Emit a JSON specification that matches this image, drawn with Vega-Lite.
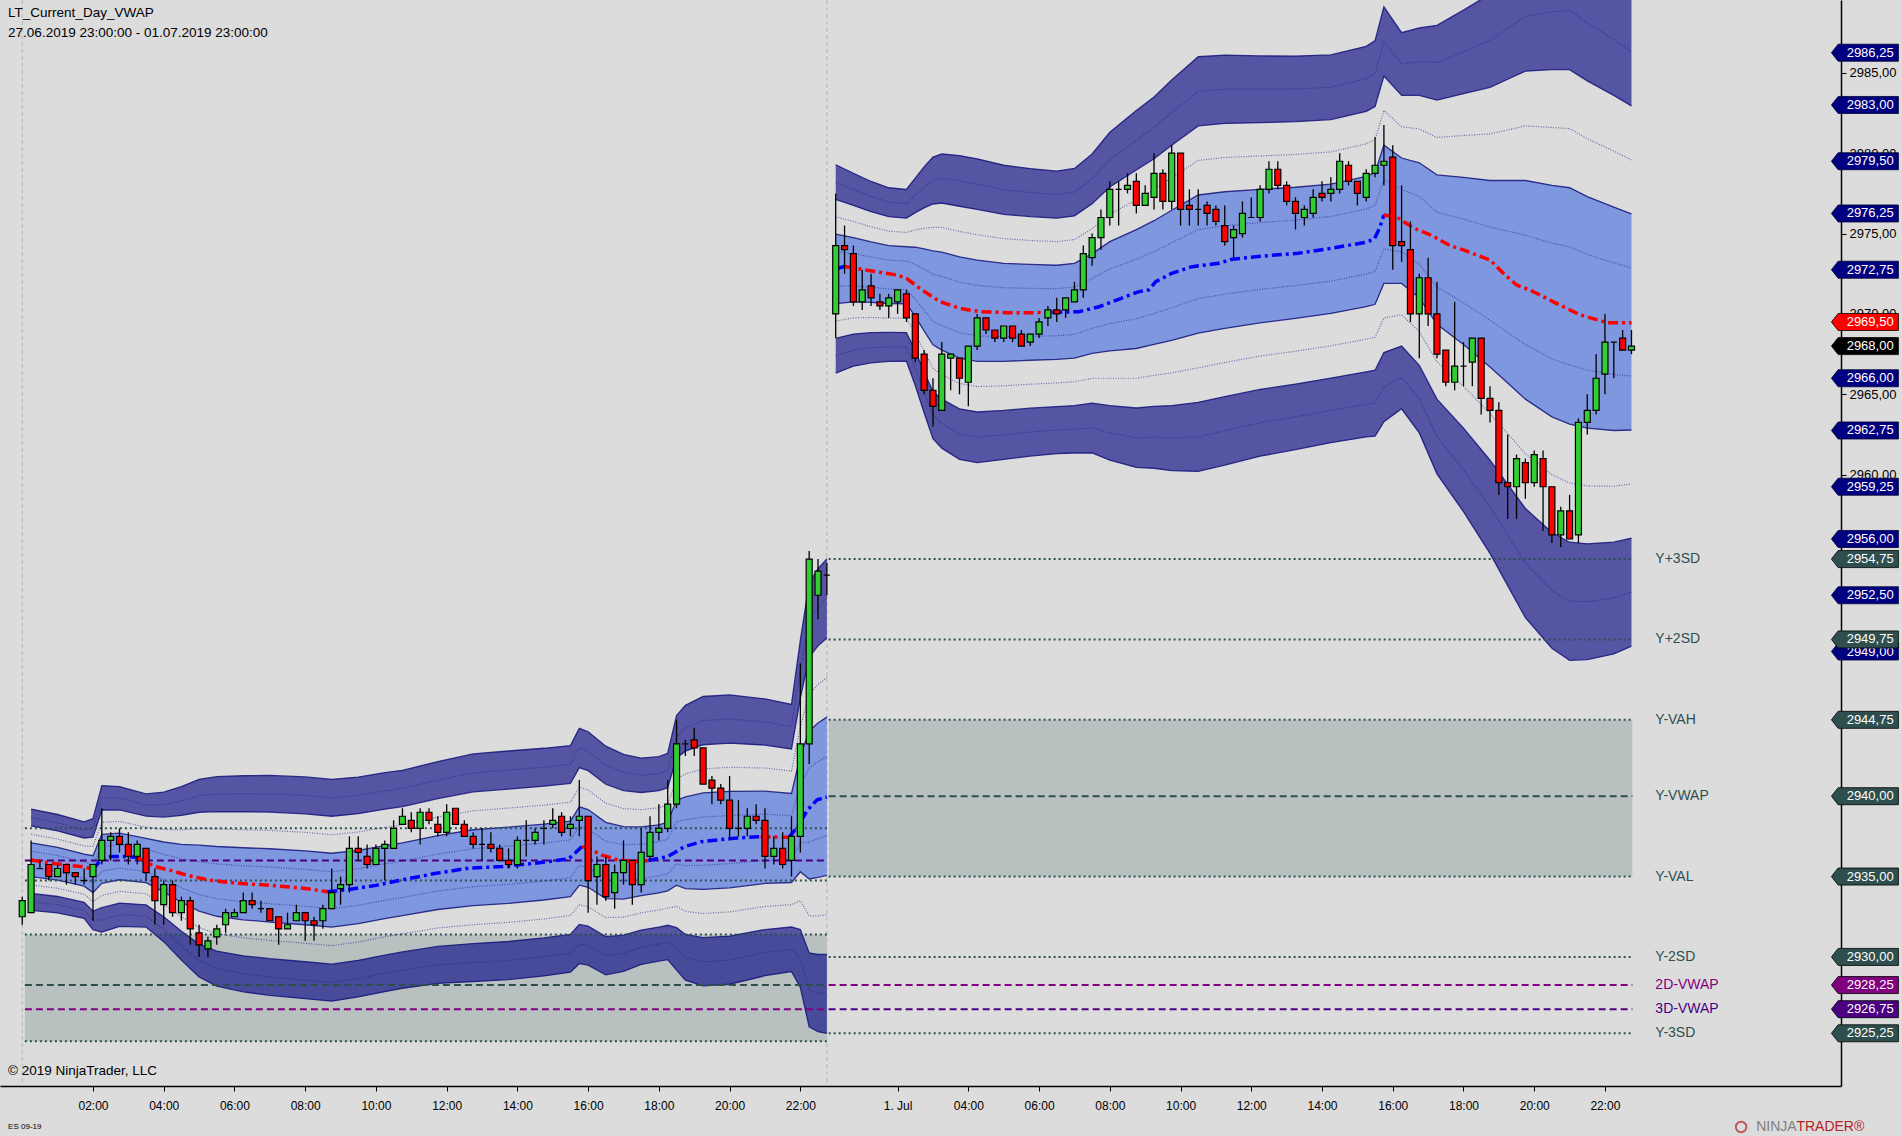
{
"$schema":"https://vega.github.io/schema/vega-lite/v6.json",
"width":1841,"height":1086,
"autosize":{"type":"none"},
"padding":{"left":0,"top":0,"right":61,"bottom":50},
"background":"#DCDCDC",
"config":{"view":{"stroke":null,"fill":"#DCDCDC"},"font":"Liberation Sans",
 "axis":{"grid":false,"domainColor":"#000000","tickColor":"#000000","labelColor":"#000000","labelFont":"Liberation Sans"}},
"resolve":{"scale":{"color":"independent","strokeDash":"independent"}},
"datasets":{
"candles":[
{"n":0,"o":2932.5,"h":2933.75,"l":2932,"c":2933.5},
{"n":1,"o":2932.75,"h":2937.25,"l":2932.75,"c":2935.75},
{"n":2,"o":2935.5,"h":2936,"l":2935.5,"c":2935.5},
{"n":3,"o":2935.75,"h":2935.75,"l":2934.75,"c":2935},
{"n":4,"o":2935,"h":2935.75,"l":2935,"c":2935.5},
{"n":5,"o":2935.75,"h":2935.75,"l":2934.5,"c":2935.25},
{"n":6,"o":2935.25,"h":2935.25,"l":2934.5,"c":2935},
{"n":7,"o":2934.75,"h":2935.5,"l":2934.5,"c":2934.75},
{"n":8,"o":2935,"h":2935.75,"l":2932.25,"c":2935.75},
{"n":9,"o":2936,"h":2939.25,"l":2935.75,"c":2937.25},
{"n":10,"o":2937.25,"h":2937.75,"l":2936,"c":2937.5},
{"n":11,"o":2937.5,"h":2938,"l":2936.5,"c":2937},
{"n":12,"o":2937,"h":2937.75,"l":2935.75,"c":2936.25},
{"n":13,"o":2936.25,"h":2937.25,"l":2935.75,"c":2937},
{"n":14,"o":2936.75,"h":2936.75,"l":2934.75,"c":2935.25},
{"n":15,"o":2935,"h":2935.5,"l":2932,"c":2933.5},
{"n":16,"o":2933.25,"h":2934.75,"l":2932,"c":2934.5},
{"n":17,"o":2934.5,"h":2934.75,"l":2932.5,"c":2932.75},
{"n":18,"o":2932.75,"h":2933.75,"l":2932.25,"c":2933.5},
{"n":19,"o":2933.5,"h":2933.75,"l":2930.75,"c":2931.75},
{"n":20,"o":2931.5,"h":2932,"l":2930,"c":2930.75},
{"n":21,"o":2930.5,"h":2931.25,"l":2930,"c":2931},
{"n":22,"o":2931.25,"h":2932,"l":2930.75,"c":2931.75},
{"n":23,"o":2932,"h":2933,"l":2931.5,"c":2932.75},
{"n":24,"o":2932.5,"h":2933,"l":2932.5,"c":2932.75},
{"n":25,"o":2932.75,"h":2934,"l":2932.75,"c":2933.5},
{"n":26,"o":2933.5,"h":2934,"l":2933,"c":2933.25},
{"n":27,"o":2933,"h":2933.5,"l":2932.75,"c":2933},
{"n":28,"o":2933,"h":2933,"l":2932.25,"c":2932.25},
{"n":29,"o":2932.5,"h":2932.5,"l":2930.75,"c":2931.75},
{"n":30,"o":2931.75,"h":2932.75,"l":2931.75,"c":2932},
{"n":31,"o":2932.25,"h":2933.25,"l":2932.25,"c":2932.75},
{"n":32,"o":2932.75,"h":2932.75,"l":2931,"c":2932.25},
{"n":33,"o":2932.25,"h":2932.5,"l":2931,"c":2932},
{"n":34,"o":2932.25,"h":2933.25,"l":2931.75,"c":2933},
{"n":35,"o":2933,"h":2935.5,"l":2933,"c":2934},
{"n":36,"o":2934.25,"h":2935,"l":2933.25,"c":2934.5},
{"n":37,"o":2934.5,"h":2937.5,"l":2934,"c":2936.75},
{"n":38,"o":2936.75,"h":2937.5,"l":2936,"c":2936.5},
{"n":39,"o":2936.25,"h":2937,"l":2935.5,"c":2935.75},
{"n":40,"o":2935.75,"h":2937,"l":2935.75,"c":2936.75},
{"n":41,"o":2936.75,"h":2937.25,"l":2934.75,"c":2937},
{"n":42,"o":2936.75,"h":2938.5,"l":2936.75,"c":2938},
{"n":43,"o":2938.25,"h":2939.25,"l":2938.25,"c":2938.75},
{"n":44,"o":2938.5,"h":2939,"l":2937.75,"c":2938},
{"n":45,"o":2938,"h":2939.25,"l":2937,"c":2939},
{"n":46,"o":2939,"h":2939.25,"l":2938.25,"c":2938.5},
{"n":47,"o":2938.25,"h":2938.75,"l":2937.5,"c":2937.75},
{"n":48,"o":2937.75,"h":2939.5,"l":2937.5,"c":2939},
{"n":49,"o":2939.25,"h":2939.25,"l":2938.25,"c":2938.25},
{"n":50,"o":2938.25,"h":2938.5,"l":2937.5,"c":2937.5},
{"n":51,"o":2937.5,"h":2937.75,"l":2936.75,"c":2937},
{"n":52,"o":2937,"h":2938,"l":2936,"c":2937},
{"n":53,"o":2937,"h":2937.75,"l":2936.5,"c":2936.75},
{"n":54,"o":2936.75,"h":2937,"l":2936,"c":2936},
{"n":55,"o":2936,"h":2936.75,"l":2935.5,"c":2935.75},
{"n":56,"o":2935.75,"h":2937.5,"l":2935.5,"c":2937.25},
{"n":57,"o":2937.25,"h":2938.5,"l":2936.25,"c":2937.25},
{"n":58,"o":2937.25,"h":2938,"l":2937,"c":2937.75},
{"n":59,"o":2938,"h":2938.5,"l":2937,"c":2938},
{"n":60,"o":2938.25,"h":2939.25,"l":2938,"c":2938.5},
{"n":61,"o":2938.75,"h":2939,"l":2937.5,"c":2937.75},
{"n":62,"o":2938,"h":2938.75,"l":2937.5,"c":2938.25},
{"n":63,"o":2938.5,"h":2941,"l":2937.5,"c":2938.75},
{"n":64,"o":2938.75,"h":2938.75,"l":2932.75,"c":2934.75},
{"n":65,"o":2935,"h":2936.25,"l":2933.25,"c":2935.75},
{"n":66,"o":2935.75,"h":2936.25,"l":2933.5,"c":2933.75},
{"n":67,"o":2934,"h":2935.75,"l":2933,"c":2935.25},
{"n":68,"o":2935.25,"h":2937.25,"l":2934.5,"c":2936},
{"n":69,"o":2936,"h":2936,"l":2933.25,"c":2934.5},
{"n":70,"o":2934.5,"h":2938,"l":2934,"c":2936.5},
{"n":71,"o":2936.25,"h":2938.75,"l":2936,"c":2937.75},
{"n":72,"o":2937.75,"h":2939.5,"l":2937.25,"c":2938},
{"n":73,"o":2938,"h":2941,"l":2937.75,"c":2939.5},
{"n":74,"o":2939.5,"h":2944.75,"l":2939.25,"c":2943.25},
{"n":75,"o":2943.25,"h":2943.5,"l":2942.5,"c":2943.25},
{"n":76,"o":2943.5,"h":2944.25,"l":2942.5,"c":2943},
{"n":77,"o":2943,"h":2943,"l":2940.75,"c":2940.75},
{"n":78,"o":2941,"h":2941.25,"l":2939.5,"c":2940.5},
{"n":79,"o":2940.5,"h":2940.75,"l":2939.5,"c":2939.75},
{"n":80,"o":2939.75,"h":2941.25,"l":2937.25,"c":2938},
{"n":81,"o":2938,"h":2939.75,"l":2937.5,"c":2938},
{"n":82,"o":2938,"h":2939.25,"l":2937.5,"c":2938.75},
{"n":83,"o":2938.75,"h":2939.5,"l":2938.25,"c":2938.5},
{"n":84,"o":2938.5,"h":2939.25,"l":2935.5,"c":2936.25},
{"n":85,"o":2936.25,"h":2937.5,"l":2935.75,"c":2936.75},
{"n":86,"o":2936.75,"h":2937.75,"l":2935.5,"c":2935.75},
{"n":87,"o":2936,"h":2938.75,"l":2935,"c":2937.5},
{"n":88,"o":2937.5,"h":2948.25,"l":2936.5,"c":2943.25},
{"n":89,"o":2943.25,"h":2955.25,"l":2942,"c":2954.75},
{"n":90,"o":2952.5,"h":2954.75,"l":2951,"c":2954},
{"n":91,"o":2953.75,"h":2954.5,"l":2952.5,"c":2953.75},
{"n":92,"o":2970,"h":2977.5,"l":2968.5,"c":2974.25},
{"n":93,"o":2974.25,"h":2975.5,"l":2972.5,"c":2974},
{"n":94,"o":2973.75,"h":2974.25,"l":2970.5,"c":2970.75},
{"n":95,"o":2970.75,"h":2972.75,"l":2970.25,"c":2971.5},
{"n":96,"o":2971.75,"h":2972.5,"l":2970.5,"c":2971},
{"n":97,"o":2970.75,"h":2971.25,"l":2970.25,"c":2970.5},
{"n":98,"o":2970.5,"h":2971.25,"l":2969.75,"c":2971},
{"n":99,"o":2970.75,"h":2971.5,"l":2970,"c":2971.5},
{"n":100,"o":2971.25,"h":2971.5,"l":2969.5,"c":2969.75},
{"n":101,"o":2970,"h":2970,"l":2967,"c":2967.25},
{"n":102,"o":2967.5,"h":2967.75,"l":2965,"c":2965.25},
{"n":103,"o":2965.25,"h":2966,"l":2963,"c":2964.25},
{"n":104,"o":2964,"h":2968.25,"l":2964,"c":2967.5},
{"n":105,"o":2967.25,"h":2967.5,"l":2965.25,"c":2967.5},
{"n":106,"o":2967.25,"h":2967.25,"l":2965,"c":2966},
{"n":107,"o":2965.75,"h":2968,"l":2964.25,"c":2968},
{"n":108,"o":2968,"h":2970,"l":2967.75,"c":2969.75},
{"n":109,"o":2969.75,"h":2969.75,"l":2968.75,"c":2969},
{"n":110,"o":2969,"h":2969,"l":2968.25,"c":2968.5},
{"n":111,"o":2968.5,"h":2969.25,"l":2968.25,"c":2969.25},
{"n":112,"o":2969.25,"h":2969.25,"l":2968.25,"c":2968.5},
{"n":113,"o":2968.75,"h":2969,"l":2968,"c":2968},
{"n":114,"o":2968.25,"h":2968.75,"l":2968,"c":2968.75},
{"n":115,"o":2968.75,"h":2969.75,"l":2968.5,"c":2969.5},
{"n":116,"o":2969.75,"h":2970.5,"l":2969.25,"c":2970.25},
{"n":117,"o":2970.25,"h":2971,"l":2969.5,"c":2970},
{"n":118,"o":2970.25,"h":2971,"l":2969.75,"c":2971},
{"n":119,"o":2970.75,"h":2972,"l":2970.75,"c":2971.5},
{"n":120,"o":2971.5,"h":2974.25,"l":2971,"c":2973.75},
{"n":121,"o":2973.5,"h":2975,"l":2973,"c":2974.75},
{"n":122,"o":2974.75,"h":2976.5,"l":2974,"c":2976},
{"n":123,"o":2976,"h":2978.25,"l":2975.5,"c":2977.75},
{"n":124,"o":2977.75,"h":2978.25,"l":2975.5,"c":2977.75},
{"n":125,"o":2977.75,"h":2978.75,"l":2977.5,"c":2978},
{"n":126,"o":2978.25,"h":2978.75,"l":2976.25,"c":2976.75},
{"n":127,"o":2976.75,"h":2978,"l":2976.75,"c":2977.5},
{"n":128,"o":2977.25,"h":2980,"l":2976.5,"c":2978.75},
{"n":129,"o":2978.75,"h":2979,"l":2976.5,"c":2977},
{"n":130,"o":2977,"h":2980.5,"l":2976.5,"c":2980},
{"n":131,"o":2980,"h":2980,"l":2975.5,"c":2976.5},
{"n":132,"o":2976.75,"h":2977.75,"l":2975.5,"c":2976.5},
{"n":133,"o":2976.5,"h":2977.75,"l":2975.5,"c":2976.5},
{"n":134,"o":2976.75,"h":2977,"l":2975.5,"c":2976.25},
{"n":135,"o":2976.5,"h":2976.75,"l":2975.5,"c":2975.75},
{"n":136,"o":2975.5,"h":2976.75,"l":2974.25,"c":2974.5},
{"n":137,"o":2974.75,"h":2975.5,"l":2973.5,"c":2975.25},
{"n":138,"o":2975,"h":2977,"l":2974.75,"c":2976.25},
{"n":139,"o":2976,"h":2977.25,"l":2976,"c":2976},
{"n":140,"o":2976,"h":2978,"l":2975.75,"c":2977.75},
{"n":141,"o":2977.75,"h":2979.5,"l":2977.5,"c":2979},
{"n":142,"o":2979,"h":2979.5,"l":2977.75,"c":2978},
{"n":143,"o":2978,"h":2978.25,"l":2976.75,"c":2977},
{"n":144,"o":2977,"h":2977.25,"l":2975.25,"c":2976.25},
{"n":145,"o":2976,"h":2976.75,"l":2975.5,"c":2976.5},
{"n":146,"o":2976.25,"h":2977.75,"l":2976,"c":2977.25},
{"n":147,"o":2977.5,"h":2978.25,"l":2977,"c":2977.25},
{"n":148,"o":2977.5,"h":2978.5,"l":2977,"c":2977.75},
{"n":149,"o":2977.75,"h":2980,"l":2977.5,"c":2979.5},
{"n":150,"o":2979.25,"h":2979.5,"l":2978,"c":2978.25},
{"n":151,"o":2978.25,"h":2978.25,"l":2976.75,"c":2977.5},
{"n":152,"o":2977.25,"h":2979,"l":2977,"c":2978.75},
{"n":153,"o":2978.75,"h":2981,"l":2978.5,"c":2979.25},
{"n":154,"o":2979.25,"h":2981.75,"l":2978,"c":2979.5},
{"n":155,"o":2979.75,"h":2980.5,"l":2972.75,"c":2974.25},
{"n":156,"o":2974.5,"h":2978,"l":2973.25,"c":2974.25},
{"n":157,"o":2974,"h":2975.75,"l":2969.5,"c":2970},
{"n":158,"o":2970,"h":2972.5,"l":2967.25,"c":2972.25},
{"n":159,"o":2972.25,"h":2973.5,"l":2969.25,"c":2970},
{"n":160,"o":2970,"h":2972,"l":2967.25,"c":2967.5},
{"n":161,"o":2967.75,"h":2967.75,"l":2965.5,"c":2965.75},
{"n":162,"o":2965.75,"h":2970.75,"l":2965.25,"c":2966.75},
{"n":163,"o":2966.75,"h":2968.25,"l":2965.5,"c":2966.75},
{"n":164,"o":2967,"h":2968.5,"l":2965.5,"c":2968.5},
{"n":165,"o":2968.5,"h":2968.5,"l":2963.75,"c":2964.75},
{"n":166,"o":2964.75,"h":2965.5,"l":2963.25,"c":2964},
{"n":167,"o":2964,"h":2964.5,"l":2958.75,"c":2959.5},
{"n":168,"o":2959.5,"h":2962.5,"l":2957.25,"c":2959.25},
{"n":169,"o":2959.25,"h":2961.25,"l":2957.25,"c":2961},
{"n":170,"o":2960.75,"h":2961,"l":2958.5,"c":2959.5},
{"n":171,"o":2959.5,"h":2961.5,"l":2959.25,"c":2961.25},
{"n":172,"o":2961,"h":2961.5,"l":2956.5,"c":2959.25},
{"n":173,"o":2959.25,"h":2959.25,"l":2955.75,"c":2956.25},
{"n":174,"o":2956.25,"h":2958,"l":2955.5,"c":2957.75},
{"n":175,"o":2957.75,"h":2958.75,"l":2956,"c":2956},
{"n":176,"o":2956.25,"h":2963.5,"l":2955.75,"c":2963.25},
{"n":177,"o":2963.25,"h":2965,"l":2962.5,"c":2964},
{"n":178,"o":2964,"h":2967.5,"l":2963.75,"c":2966},
{"n":179,"o":2966.25,"h":2970,"l":2965,"c":2968.25},
{"n":180,"o":2968.25,"h":2968.25,"l":2966,"c":2968.25},
{"n":181,"o":2968.5,"h":2969,"l":2967.75,"c":2967.75},
{"n":182,"o":2967.75,"h":2969,"l":2967.5,"c":2968}
],
"bands":[
{"s":"L","n":1,"u3":2939.2,"u25":2938.68,"u2":2938.15,"u15":2937.63,"u1":2937.1,"u05":2936.58,"l05":2935.53,"l1":2935.0,"l15":2934.48,"l2":2933.95,"l25":2933.43,"l3":2932.9},
{"s":"L","n":4,"u3":2938.86,"u25":2938.35,"u2":2937.84,"u15":2937.33,"u1":2936.82,"u05":2936.31,"l05":2935.29,"l1":2934.78,"l15":2934.27,"l2":2933.76,"l25":2933.25,"l3":2932.74},
{"s":"L","n":7,"u3":2938.4,"u25":2937.9,"u2":2937.4,"u15":2936.9,"u1":2936.4,"u05":2935.9,"l05":2934.9,"l1":2934.4,"l15":2933.9,"l2":2933.4,"l25":2932.9,"l3":2932.4},
{"s":"L","n":8,"u3":2938.6,"u25":2938.03,"u2":2937.45,"u15":2936.88,"u1":2936.3,"u05":2935.73,"l05":2934.58,"l1":2934.0,"l15":2933.43,"l2":2932.85,"l25":2932.28,"l3":2931.7},
{"s":"L","n":9,"u3":2940.66,"u25":2939.9,"u2":2939.14,"u15":2938.38,"u1":2937.62,"u05":2936.86,"l05":2935.34,"l1":2934.58,"l15":2933.82,"l2":2933.06,"l25":2932.3,"l3":2931.54},
{"s":"L","n":11,"u3":2940.6,"u25":2939.88,"u2":2939.15,"u15":2938.43,"u1":2937.7,"u05":2936.98,"l05":2935.53,"l1":2934.8,"l15":2934.08,"l2":2933.35,"l25":2932.63,"l3":2931.9},
{"s":"L","n":14,"u3":2940.14,"u25":2939.45,"u2":2938.76,"u15":2938.07,"u1":2937.38,"u05":2936.69,"l05":2935.31,"l1":2934.62,"l15":2933.93,"l2":2933.24,"l25":2932.55,"l3":2931.86},
{"s":"L","n":16,"u3":2940.25,"u25":2939.48,"u2":2938.7,"u15":2937.93,"u1":2937.15,"u05":2936.38,"l05":2934.83,"l1":2934.05,"l15":2933.28,"l2":2932.5,"l25":2931.73,"l3":2930.95},
{"s":"L","n":18,"u3":2940.6,"u25":2939.7,"u2":2938.8,"u15":2937.9,"u1":2937.0,"u05":2936.1,"l05":2934.3,"l1":2933.4,"l15":2932.5,"l2":2931.6,"l25":2930.7,"l3":2929.8},
{"s":"L","n":20,"u3":2941.05,"u25":2940.03,"u2":2939.0,"u15":2937.98,"u1":2936.95,"u05":2935.93,"l05":2933.88,"l1":2932.85,"l15":2931.83,"l2":2930.8,"l25":2929.78,"l3":2928.75},
{"s":"L","n":22,"u3":2941.21,"u25":2940.13,"u2":2939.04,"u15":2937.96,"u1":2936.87,"u05":2935.79,"l05":2933.62,"l1":2932.53,"l15":2931.45,"l2":2930.36,"l25":2929.28,"l3":2928.19},
{"s":"L","n":25,"u3":2941.27,"u25":2940.15,"u2":2939.03,"u15":2937.91,"u1":2936.79,"u05":2935.67,"l05":2933.43,"l1":2932.31,"l15":2931.19,"l2":2930.07,"l25":2928.95,"l3":2927.83},
{"s":"L","n":28,"u3":2941.29,"u25":2940.15,"u2":2939.01,"u15":2937.87,"u1":2936.73,"u05":2935.59,"l05":2933.31,"l1":2932.17,"l15":2931.03,"l2":2929.89,"l25":2928.75,"l3":2927.61},
{"s":"L","n":32,"u3":2941.2,"u25":2940.05,"u2":2938.9,"u15":2937.75,"u1":2936.6,"u05":2935.45,"l05":2933.15,"l1":2932.0,"l15":2930.85,"l2":2929.7,"l25":2928.55,"l3":2927.4},
{"s":"L","n":35,"u3":2941.05,"u25":2939.9,"u2":2938.75,"u15":2937.6,"u1":2936.45,"u05":2935.3,"l05":2933.0,"l1":2931.85,"l15":2930.7,"l2":2929.55,"l25":2928.4,"l3":2927.25},
{"s":"L","n":38,"u3":2941.19,"u25":2940.05,"u2":2938.91,"u15":2937.77,"u1":2936.63,"u05":2935.49,"l05":2933.21,"l1":2932.07,"l15":2930.93,"l2":2929.79,"l25":2928.65,"l3":2927.51},
{"s":"L","n":41,"u3":2941.46,"u25":2940.33,"u2":2939.19,"u15":2938.06,"u1":2936.92,"u05":2935.79,"l05":2933.52,"l1":2932.38,"l15":2931.25,"l2":2930.11,"l25":2928.98,"l3":2927.84},
{"s":"L","n":43,"u3":2941.61,"u25":2940.48,"u2":2939.35,"u15":2938.22,"u1":2937.09,"u05":2935.96,"l05":2933.7,"l1":2932.57,"l15":2931.44,"l2":2930.31,"l25":2929.18,"l3":2928.05},
{"s":"L","n":47,"u3":2942.15,"u25":2941.0,"u2":2939.85,"u15":2938.7,"u1":2937.55,"u05":2936.4,"l05":2934.1,"l1":2932.95,"l15":2931.8,"l2":2930.65,"l25":2929.5,"l3":2928.35},
{"s":"L","n":51,"u3":2942.63,"u25":2941.45,"u2":2940.27,"u15":2939.09,"u1":2937.91,"u05":2936.73,"l05":2934.37,"l1":2933.19,"l15":2932.01,"l2":2930.83,"l25":2929.65,"l3":2928.47},
{"s":"L","n":55,"u3":2942.81,"u25":2941.63,"u2":2940.44,"u15":2939.26,"u1":2938.07,"u05":2936.89,"l05":2934.52,"l1":2933.33,"l15":2932.15,"l2":2930.96,"l25":2929.78,"l3":2928.59},
{"s":"L","n":59,"u3":2942.98,"u25":2941.8,"u2":2940.62,"u15":2939.44,"u1":2938.26,"u05":2937.08,"l05":2934.72,"l1":2933.54,"l15":2932.36,"l2":2931.18,"l25":2930.0,"l3":2928.82},
{"s":"L","n":62,"u3":2943.15,"u25":2941.98,"u2":2940.8,"u15":2939.63,"u1":2938.45,"u05":2937.28,"l05":2934.93,"l1":2933.75,"l15":2932.58,"l2":2931.4,"l25":2930.23,"l3":2929.05},
{"s":"L","n":63,"u3":2944.22,"u25":2943.0,"u2":2941.78,"u15":2940.56,"u1":2939.34,"u05":2938.12,"l05":2935.68,"l1":2934.46,"l15":2933.24,"l2":2932.02,"l25":2930.8,"l3":2929.58},
{"s":"L","n":64,"u3":2944.01,"u25":2942.8,"u2":2941.59,"u15":2940.38,"u1":2939.17,"u05":2937.96,"l05":2935.54,"l1":2934.33,"l15":2933.12,"l2":2931.91,"l25":2930.7,"l3":2929.49},
{"s":"L","n":66,"u3":2943.11,"u25":2941.93,"u2":2940.74,"u15":2939.56,"u1":2938.37,"u05":2937.19,"l05":2934.82,"l1":2933.63,"l15":2932.45,"l2":2931.26,"l25":2930.08,"l3":2928.89},
{"s":"L","n":68,"u3":2942.6,"u25":2941.48,"u2":2940.35,"u15":2939.23,"u1":2938.1,"u05":2936.98,"l05":2934.73,"l1":2933.6,"l15":2932.48,"l2":2931.35,"l25":2930.23,"l3":2929.1},
{"s":"L","n":70,"u3":2942.37,"u25":2941.3,"u2":2940.23,"u15":2939.16,"u1":2938.09,"u05":2937.02,"l05":2934.88,"l1":2933.81,"l15":2932.74,"l2":2931.67,"l25":2930.6,"l3":2929.53},
{"s":"L","n":72,"u3":2942.46,"u25":2941.4,"u2":2940.34,"u15":2939.28,"u1":2938.22,"u05":2937.16,"l05":2935.04,"l1":2933.98,"l15":2932.92,"l2":2931.86,"l25":2930.8,"l3":2929.74},
{"s":"L","n":73,"u3":2942.67,"u25":2941.6,"u2":2940.53,"u15":2939.46,"u1":2938.39,"u05":2937.32,"l05":2935.18,"l1":2934.11,"l15":2933.04,"l2":2931.97,"l25":2930.9,"l3":2929.83},
{"s":"L","n":74,"u3":2945.02,"u25":2943.7,"u2":2942.38,"u15":2941.06,"u1":2939.74,"u05":2938.42,"l05":2935.78,"l1":2934.46,"l15":2933.14,"l2":2931.82,"l25":2930.5,"l3":2929.18},
{"s":"L","n":75,"u3":2945.65,"u25":2944.23,"u2":2942.8,"u15":2941.38,"u1":2939.95,"u05":2938.53,"l05":2935.68,"l1":2934.25,"l15":2932.83,"l2":2931.4,"l25":2929.98,"l3":2928.55},
{"s":"L","n":77,"u3":2946.2,"u25":2944.7,"u2":2943.2,"u15":2941.7,"u1":2940.2,"u05":2938.7,"l05":2935.7,"l1":2934.2,"l15":2932.7,"l2":2931.2,"l25":2929.7,"l3":2928.2},
{"s":"L","n":80,"u3":2946.3,"u25":2944.8,"u2":2943.3,"u15":2941.8,"u1":2940.3,"u05":2938.8,"l05":2935.8,"l1":2934.3,"l15":2932.8,"l2":2931.3,"l25":2929.8,"l3":2928.3},
{"s":"L","n":84,"u3":2946.05,"u25":2944.62,"u2":2943.18,"u15":2941.75,"u1":2940.31,"u05":2938.88,"l05":2936.01,"l1":2934.57,"l15":2933.14,"l2":2931.7,"l25":2930.27,"l3":2928.83},
{"s":"L","n":87,"u3":2945.71,"u25":2944.33,"u2":2942.94,"u15":2941.56,"u1":2940.17,"u05":2938.79,"l05":2936.02,"l1":2934.63,"l15":2933.25,"l2":2931.86,"l25":2930.48,"l3":2929.09},
{"s":"L","n":88,"u3":2949.7,"u25":2947.9,"u2":2946.1,"u15":2944.3,"u1":2942.5,"u05":2940.7,"l05":2937.1,"l1":2935.3,"l15":2933.5,"l2":2931.7,"l25":2929.9,"l3":2928.1},
{"s":"L","n":89,"u3":2953.25,"u25":2950.95,"u2":2948.65,"u15":2946.35,"u1":2944.05,"u05":2941.75,"l05":2937.15,"l1":2934.85,"l15":2932.55,"l2":2930.25,"l25":2927.95,"l3":2925.65},
{"s":"L","n":90,"u3":2954.15,"u25":2951.75,"u2":2949.35,"u15":2946.95,"u1":2944.55,"u05":2942.15,"l05":2937.35,"l1":2934.95,"l15":2932.55,"l2":2930.15,"l25":2927.75,"l3":2925.35},
{"s":"L","n":91,"u3":2954.76,"u25":2952.3,"u2":2949.84,"u15":2947.38,"u1":2944.92,"u05":2942.46,"l05":2937.54,"l1":2935.08,"l15":2932.62,"l2":2930.16,"l25":2927.7,"l3":2925.24},
{"s":"R","n":92,"u3":2979.28,"u25":2978.2,"u2":2977.12,"u15":2976.04,"u1":2974.96,"u05":2973.88,"l05":2971.72,"l1":2970.64,"l15":2969.56,"l2":2968.48,"l25":2967.4,"l3":2966.32},
{"s":"R","n":94,"u3":2978.75,"u25":2977.75,"u2":2976.75,"u15":2975.75,"u1":2974.75,"u05":2973.75,"l05":2971.75,"l1":2970.75,"l15":2969.75,"l2":2968.75,"l25":2967.75,"l3":2966.75},
{"s":"R","n":96,"u3":2978.24,"u25":2977.3,"u2":2976.36,"u15":2975.42,"u1":2974.48,"u05":2973.54,"l05":2971.66,"l1":2970.72,"l15":2969.78,"l2":2968.84,"l25":2967.9,"l3":2966.96},
{"s":"R","n":98,"u3":2977.85,"u25":2976.95,"u2":2976.05,"u15":2975.15,"u1":2974.25,"u05":2973.35,"l05":2971.55,"l1":2970.65,"l15":2969.75,"l2":2968.85,"l25":2967.95,"l3":2967.05},
{"s":"R","n":100,"u3":2977.74,"u25":2976.85,"u2":2975.96,"u15":2975.07,"u1":2974.18,"u05":2973.29,"l05":2971.51,"l1":2970.62,"l15":2969.73,"l2":2968.84,"l25":2967.95,"l3":2967.06},
{"s":"R","n":101,"u3":2978.45,"u25":2977.38,"u2":2976.3,"u15":2975.23,"u1":2974.15,"u05":2973.08,"l05":2970.93,"l1":2969.85,"l15":2968.78,"l2":2967.7,"l25":2966.63,"l3":2965.55},
{"s":"R","n":102,"u3":2979.15,"u25":2977.88,"u2":2976.6,"u15":2975.33,"u1":2974.05,"u05":2972.78,"l05":2970.23,"l1":2968.95,"l15":2967.68,"l2":2966.4,"l25":2965.13,"l3":2963.85},
{"s":"R","n":103,"u3":2979.76,"u25":2978.3,"u2":2976.84,"u15":2975.38,"u1":2973.92,"u05":2972.46,"l05":2969.54,"l1":2968.08,"l15":2966.62,"l2":2965.16,"l25":2963.7,"l3":2962.24},
{"s":"R","n":104,"u3":2979.95,"u25":2978.43,"u2":2976.9,"u15":2975.38,"u1":2973.85,"u05":2972.33,"l05":2969.28,"l1":2967.75,"l15":2966.23,"l2":2964.7,"l25":2963.18,"l3":2961.65},
{"s":"R","n":106,"u3":2979.85,"u25":2978.28,"u2":2976.7,"u15":2975.13,"u1":2973.55,"u05":2971.98,"l05":2968.83,"l1":2967.25,"l15":2965.68,"l2":2964.1,"l25":2962.53,"l3":2960.95},
{"s":"R","n":108,"u3":2979.65,"u25":2978.08,"u2":2976.5,"u15":2974.93,"u1":2973.35,"u05":2971.78,"l05":2968.63,"l1":2967.05,"l15":2965.48,"l2":2963.9,"l25":2962.33,"l3":2960.75},
{"s":"R","n":111,"u3":2979.25,"u25":2977.73,"u2":2976.2,"u15":2974.68,"u1":2973.15,"u05":2971.63,"l05":2968.58,"l1":2967.05,"l15":2965.53,"l2":2964.0,"l25":2962.48,"l3":2960.95},
{"s":"R","n":114,"u3":2979.04,"u25":2977.55,"u2":2976.06,"u15":2974.57,"u1":2973.08,"u05":2971.59,"l05":2968.61,"l1":2967.12,"l15":2965.63,"l2":2964.14,"l25":2962.65,"l3":2961.16},
{"s":"R","n":117,"u3":2978.89,"u25":2977.43,"u2":2975.96,"u15":2974.5,"u1":2973.03,"u05":2971.57,"l05":2968.64,"l1":2967.17,"l15":2965.71,"l2":2964.24,"l25":2962.78,"l3":2961.31},
{"s":"R","n":119,"u3":2979.05,"u25":2977.58,"u2":2976.1,"u15":2974.63,"u1":2973.15,"u05":2971.68,"l05":2968.73,"l1":2967.25,"l15":2965.78,"l2":2964.3,"l25":2962.83,"l3":2961.35},
{"s":"R","n":121,"u3":2979.95,"u25":2978.4,"u2":2976.85,"u15":2975.3,"u1":2973.75,"u05":2972.2,"l05":2969.1,"l1":2967.55,"l15":2966.0,"l2":2964.45,"l25":2962.9,"l3":2961.35},
{"s":"R","n":123,"u3":2981.3,"u25":2979.6,"u2":2977.9,"u15":2976.2,"u1":2974.5,"u05":2972.8,"l05":2969.4,"l1":2967.7,"l15":2966.0,"l2":2964.3,"l25":2962.6,"l3":2960.9},
{"s":"R","n":126,"u3":2982.65,"u25":2980.8,"u2":2978.95,"u15":2977.1,"u1":2975.25,"u05":2973.4,"l05":2969.7,"l1":2967.85,"l15":2966.0,"l2":2964.15,"l25":2962.3,"l3":2960.45},
{"s":"R","n":128,"u3":2983.5,"u25":2981.58,"u2":2979.65,"u15":2977.73,"u1":2975.8,"u05":2973.88,"l05":2970.03,"l1":2968.1,"l15":2966.18,"l2":2964.25,"l25":2962.33,"l3":2960.4},
{"s":"R","n":130,"u3":2984.55,"u25":2982.53,"u2":2980.5,"u15":2978.48,"u1":2976.45,"u05":2974.43,"l05":2970.38,"l1":2968.35,"l15":2966.33,"l2":2964.3,"l25":2962.28,"l3":2960.25},
{"s":"R","n":133,"u3":2986.0,"u25":2983.85,"u2":2981.7,"u15":2979.55,"u1":2977.4,"u05":2975.25,"l05":2970.95,"l1":2968.8,"l15":2966.65,"l2":2964.5,"l25":2962.35,"l3":2960.2},
{"s":"R","n":136,"u3":2986.1,"u25":2983.98,"u2":2981.85,"u15":2979.73,"u1":2977.6,"u05":2975.48,"l05":2971.23,"l1":2969.1,"l15":2966.98,"l2":2964.85,"l25":2962.73,"l3":2960.6},
{"s":"R","n":140,"u3":2986.05,"u25":2983.98,"u2":2981.9,"u15":2979.83,"u1":2977.75,"u05":2975.68,"l05":2971.53,"l1":2969.45,"l15":2967.38,"l2":2965.3,"l25":2963.23,"l3":2961.15},
{"s":"R","n":144,"u3":2986.04,"u25":2984.0,"u2":2981.96,"u15":2979.92,"u1":2977.88,"u05":2975.84,"l05":2971.76,"l1":2969.72,"l15":2967.68,"l2":2965.64,"l25":2963.6,"l3":2961.56},
{"s":"R","n":148,"u3":2986.11,"u25":2984.1,"u2":2982.09,"u15":2980.08,"u1":2978.07,"u05":2976.06,"l05":2972.04,"l1":2970.03,"l15":2968.02,"l2":2966.01,"l25":2964.0,"l3":2961.99},
{"s":"R","n":152,"u3":2986.65,"u25":2984.63,"u2":2982.6,"u15":2980.58,"u1":2978.55,"u05":2976.53,"l05":2972.48,"l1":2970.45,"l15":2968.43,"l2":2966.4,"l25":2964.38,"l3":2962.35},
{"s":"R","n":153,"u3":2987.0,"u25":2984.95,"u2":2982.9,"u15":2980.85,"u1":2978.8,"u05":2976.75,"l05":2972.65,"l1":2970.6,"l15":2968.55,"l2":2966.5,"l25":2964.45,"l3":2962.4},
{"s":"R","n":154,"u3":2989.1,"u25":2986.95,"u2":2984.8,"u15":2982.65,"u1":2980.5,"u05":2978.35,"l05":2974.05,"l1":2971.9,"l15":2969.75,"l2":2967.6,"l25":2965.45,"l3":2963.3},
{"s":"R","n":156,"u3":2987.5,"u25":2985.55,"u2":2983.6,"u15":2981.65,"u1":2979.7,"u05":2977.75,"l05":2973.85,"l1":2971.9,"l15":2969.95,"l2":2968.0,"l25":2966.05,"l3":2964.1},
{"s":"R","n":158,"u3":2987.8,"u25":2985.7,"u2":2983.6,"u15":2981.5,"u1":2979.4,"u05":2977.3,"l05":2973.1,"l1":2971.0,"l15":2968.9,"l2":2966.8,"l25":2964.7,"l3":2962.6},
{"s":"R","n":160,"u3":2987.95,"u25":2985.63,"u2":2983.3,"u15":2980.98,"u1":2978.65,"u05":2976.33,"l05":2971.68,"l1":2969.35,"l15":2967.03,"l2":2964.7,"l25":2962.38,"l3":2960.05},
{"s":"R","n":163,"u3":2988.9,"u25":2986.3,"u2":2983.7,"u15":2981.1,"u1":2978.5,"u05":2975.9,"l05":2970.7,"l1":2968.1,"l15":2965.5,"l2":2962.9,"l25":2960.3,"l3":2957.7},
{"s":"R","n":166,"u3":2989.9,"u25":2987.0,"u2":2984.1,"u15":2981.2,"u1":2978.3,"u05":2975.4,"l05":2969.6,"l1":2966.7,"l15":2963.8,"l2":2960.9,"l25":2958.0,"l3":2955.1},
{"s":"R","n":168,"u3":2990.9,"u25":2987.75,"u2":2984.6,"u15":2981.45,"u1":2978.3,"u05":2975.15,"l05":2968.85,"l1":2965.7,"l15":2962.55,"l2":2959.4,"l25":2956.25,"l3":2953.1},
{"s":"R","n":170,"u3":2991.9,"u25":2988.5,"u2":2985.1,"u15":2981.7,"u1":2978.3,"u05":2974.9,"l05":2968.1,"l1":2964.7,"l15":2961.3,"l2":2957.9,"l25":2954.5,"l3":2951.1},
{"s":"R","n":173,"u3":2992.4,"u25":2988.8,"u2":2985.2,"u15":2981.6,"u1":2978.0,"u05":2974.4,"l05":2967.2,"l1":2963.6,"l15":2960.0,"l2":2956.4,"l25":2952.8,"l3":2949.2},
{"s":"R","n":175,"u3":2992.55,"u25":2988.88,"u2":2985.2,"u15":2981.53,"u1":2977.85,"u05":2974.18,"l05":2966.83,"l1":2963.15,"l15":2959.48,"l2":2955.8,"l25":2952.13,"l3":2948.45},
{"s":"R","n":177,"u3":2991.7,"u25":2988.1,"u2":2984.5,"u15":2980.9,"u1":2977.3,"u05":2973.7,"l05":2966.5,"l1":2962.9,"l15":2959.3,"l2":2955.7,"l25":2952.1,"l3":2948.5},
{"s":"R","n":180,"u3":2990.55,"u25":2987.08,"u2":2983.6,"u15":2980.13,"u1":2976.65,"u05":2973.18,"l05":2966.23,"l1":2962.75,"l15":2959.28,"l2":2955.8,"l25":2952.33,"l3":2948.85},
{"s":"R","n":182,"u3":2989.66,"u25":2986.3,"u2":2982.94,"u15":2979.58,"u1":2976.22,"u05":2972.86,"l05":2966.14,"l1":2962.78,"l15":2959.42,"l2":2956.06,"l25":2952.7,"l3":2949.34}
],
"vwap":[
{"g":1,"d":"dn","n":1,"v":2936.03},{"g":1,"d":"dn","n":3,"v":2935.85},{"g":1,"d":"dn","n":5,"v":2935.72},{"g":1,"d":"dn","n":7,"v":2935.6},{"g":1,"d":"dn","n":8,"v":2935.45},
{"g":2,"d":"up","n":8,"v":2935.45},{"g":2,"d":"up","n":9,"v":2936.1},{"g":2,"d":"up","n":10,"v":2936.24},{"g":2,"d":"up","n":12,"v":2936.24},{"g":2,"d":"up","n":13,"v":2936.2},
{"g":3,"d":"dn","n":13,"v":2936.2},{"g":3,"d":"dn","n":14,"v":2935.9},{"g":3,"d":"dn","n":15,"v":2935.62},{"g":3,"d":"dn","n":17,"v":2935.35},{"g":3,"d":"dn","n":18.5,"v":2935.1},{"g":3,"d":"dn","n":21,"v":2934.79},{"g":3,"d":"dn","n":24.3,"v":2934.58},{"g":3,"d":"dn","n":28,"v":2934.46},{"g":3,"d":"dn","n":31.8,"v":2934.27},{"g":3,"d":"dn","n":34.5,"v":2934.06},
{"g":4,"d":"up","n":34.5,"v":2934.06},{"g":4,"d":"up","n":37,"v":2934.2},{"g":4,"d":"up","n":40,"v":2934.45},{"g":4,"d":"up","n":43,"v":2934.8},{"g":4,"d":"up","n":46.8,"v":2935.2},{"g":4,"d":"up","n":50.5,"v":2935.52},{"g":4,"d":"up","n":54.3,"v":2935.62},{"g":4,"d":"up","n":58,"v":2935.83},{"g":4,"d":"up","n":61.8,"v":2936.1},{"g":4,"d":"up","n":62.5,"v":2936.45},{"g":4,"d":"up","n":63.3,"v":2936.86},
{"g":5,"d":"dn","n":63.3,"v":2936.86},{"g":5,"d":"dn","n":64,"v":2936.76},{"g":5,"d":"dn","n":65.5,"v":2936.35},{"g":5,"d":"dn","n":67.4,"v":2936.03},{"g":5,"d":"dn","n":69.3,"v":2935.93},{"g":5,"d":"dn","n":70.8,"v":2936.0},
{"g":6,"d":"up","n":70.8,"v":2936.0},{"g":6,"d":"up","n":73,"v":2936.24},{"g":6,"d":"up","n":74.9,"v":2936.86},{"g":6,"d":"up","n":76.8,"v":2937.17},{"g":6,"d":"up","n":80.5,"v":2937.38},{"g":6,"d":"up","n":83.5,"v":2937.48},
{"g":7,"d":"dn","n":83.5,"v":2937.48},{"g":7,"d":"dn","n":86.7,"v":2937.44},
{"g":8,"d":"up","n":86.7,"v":2937.44},{"g":8,"d":"up","n":87.7,"v":2938.1},{"g":8,"d":"up","n":88.8,"v":2939.14},{"g":8,"d":"up","n":89.9,"v":2939.77},{"g":8,"d":"up","n":91,"v":2939.95},
{"g":9,"d":"up","n":92,"v":2972.8},{"g":9,"d":"up","n":93,"v":2972.95},
{"g":10,"d":"dn","n":93,"v":2972.95},{"g":10,"d":"dn","n":95.9,"v":2972.69},{"g":10,"d":"dn","n":98.9,"v":2972.42},{"g":10,"d":"dn","n":100,"v":2972.22},{"g":10,"d":"dn","n":101.5,"v":2971.59},{"g":10,"d":"dn","n":103.8,"v":2970.76},{"g":10,"d":"dn","n":106,"v":2970.35},{"g":10,"d":"dn","n":108.3,"v":2970.14},{"g":10,"d":"dn","n":111.3,"v":2970.08},{"g":10,"d":"dn","n":114.3,"v":2970.08},{"g":10,"d":"dn","n":116.5,"v":2970.1},
{"g":11,"d":"up","n":116.5,"v":2970.1},{"g":11,"d":"up","n":119.5,"v":2970.14},{"g":11,"d":"up","n":121.8,"v":2970.45},{"g":11,"d":"up","n":124,"v":2970.91},{"g":11,"d":"up","n":126.3,"v":2971.39},{"g":11,"d":"up","n":127.4,"v":2971.49},{"g":11,"d":"up","n":128.2,"v":2972.01},{"g":11,"d":"up","n":130,"v":2972.53},{"g":11,"d":"up","n":132.3,"v":2972.94},{"g":11,"d":"up","n":135.3,"v":2973.15},{"g":11,"d":"up","n":136.8,"v":2973.4},{"g":11,"d":"up","n":140.5,"v":2973.61},{"g":11,"d":"up","n":144.3,"v":2973.77},{"g":11,"d":"up","n":148,"v":2974.08},{"g":11,"d":"up","n":151.8,"v":2974.44},{"g":11,"d":"up","n":152.9,"v":2974.64},{"g":11,"d":"up","n":153.5,"v":2975.33},{"g":11,"d":"up","n":154,"v":2976.16},
{"g":12,"d":"dn","n":154,"v":2976.16},{"g":12,"d":"dn","n":155.5,"v":2976.01},{"g":12,"d":"dn","n":157.4,"v":2975.33},{"g":12,"d":"dn","n":159.3,"v":2974.91},{"g":12,"d":"dn","n":161.5,"v":2974.25},{"g":12,"d":"dn","n":163,"v":2973.98},{"g":12,"d":"dn","n":166,"v":2973.36},{"g":12,"d":"dn","n":167.5,"v":2972.53},{"g":12,"d":"dn","n":169,"v":2971.8},{"g":12,"d":"dn","n":170.5,"v":2971.49},{"g":12,"d":"dn","n":173.5,"v":2970.66},{"g":12,"d":"dn","n":176.2,"v":2969.94},{"g":12,"d":"dn","n":179.2,"v":2969.46},{"g":12,"d":"dn","n":182,"v":2969.45}
],
"levels":[
{"s":"L","name":"Y+3SD","t":"sd","p":2938.0,"n0":0.3,"n1":91},
{"s":"L","name":"3D-VWAP","t":"v3","p":2936.0,"n0":0.3,"n1":91},
{"s":"L","name":"Y+2SD","t":"sd","p":2934.75,"n0":0.3,"n1":91},
{"s":"L","name":"Y-VAH","t":"sd","p":2931.4,"n0":0.3,"n1":91},
{"s":"L","name":"Y-VWAP","t":"vw","p":2928.25,"n0":0.3,"n1":91},
{"s":"L","name":"2D-VWAP","t":"v2","p":2926.75,"n0":0.3,"n1":91},
{"s":"L","name":"Y-VAL","t":"sd","p":2924.75,"n0":0.3,"n1":91},
{"s":"R","name":"Y+3SD","t":"sd","p":2954.75,"n0":91.2,"n1":182.1},
{"s":"R","name":"Y+2SD","t":"sd","p":2949.75,"n0":91.2,"n1":182.1},
{"s":"R","name":"Y-VAH","t":"sd","p":2944.75,"n0":91.2,"n1":182.1},
{"s":"R","name":"Y-VWAP","t":"vw","p":2940.0,"n0":91.2,"n1":182.1},
{"s":"R","name":"Y-VAL","t":"sd","p":2935.0,"n0":91.2,"n1":182.1},
{"s":"R","name":"Y-2SD","t":"sd","p":2930.0,"n0":91.2,"n1":182.1},
{"s":"R","name":"2D-VWAP","t":"v2","p":2928.25,"n0":91.2,"n1":182.1},
{"s":"R","name":"3D-VWAP","t":"v3","p":2926.75,"n0":91.2,"n1":182.1},
{"s":"R","name":"Y-3SD","t":"sd","p":2925.25,"n0":91.2,"n1":182.1}
],
"boxes":[
{"s":"L","n0":0.3,"n1":91,"lo":2924.75,"hi":2931.4},
{"s":"R","n0":91.2,"n1":182.1,"lo":2935.0,"hi":2944.75}
],
"flags":[
{"k":"band","p":2986.25,"lab":"2986,25"},
{"k":"band","p":2983.0,"lab":"2983,00"},
{"k":"band","p":2979.5,"lab":"2979,50"},
{"k":"band","p":2976.25,"lab":"2976,25"},
{"k":"band","p":2972.75,"lab":"2972,75"},
{"k":"band","p":2966.0,"lab":"2966,00"},
{"k":"band","p":2962.75,"lab":"2962,75"},
{"k":"band","p":2959.25,"lab":"2959,25"},
{"k":"band","p":2956.0,"lab":"2956,00"},
{"k":"band","p":2952.5,"lab":"2952,50"},
{"k":"band","p":2949.0,"lab":"2949,00"},
{"k":"y","p":2954.75,"lab":"2954,75"},
{"k":"y","p":2949.75,"lab":"2949,75"},
{"k":"y","p":2944.75,"lab":"2944,75"},
{"k":"y","p":2940.0,"lab":"2940,00"},
{"k":"y","p":2935.0,"lab":"2935,00"},
{"k":"y","p":2930.0,"lab":"2930,00"},
{"k":"v2","p":2928.25,"lab":"2928,25"},
{"k":"v3","p":2926.75,"lab":"2926,75"},
{"k":"y","p":2925.25,"lab":"2925,25"},
{"k":"vwap","p":2969.5,"lab":"2969,50"},
{"k":"close","p":2968.0,"lab":"2968,00"}
]
},
"layer":[
{"data":{"values":[{"n":0},{"n":91}]},
 "mark":{"type":"rule","color":"#B4B4B4","strokeWidth":1,"strokeDash":[4,3]},
 "encoding":{"x":{"field":"n","type":"quantitative","title":null,"scale":{"domain":[-1.95,205.13],"nice":false,"zero":false},
   "axis":{"title":null,"grid":false,"values":[8,16,24,32,40,48,56,64,72,80,88,99,107,115,123,131,139,147,155,163,171,179],
   "labelExpr":"datum.value == 99 ? '1. Jul' : format(datum.value < 92 ? datum.value / 4 : (datum.value - 91) / 4, '02d') + ':00'",
   "domainColor":"#000000","domainWidth":1.5,"tickColor":"#000000","tickSize":5,"labelPadding":9,"labelFontSize":12,"labelColor":"#000000","labelFont":"Liberation Sans","labelFlush":false,"labelOverlap":false}}}},
{"data":{"name":"boxes"},
 "mark":{"type":"rect","color":"#B8C1C0"},
 "encoding":{"x":{"field":"n0","type":"quantitative","title":null,"scale":{"domain":[-1.95,205.13],"nice":false,"zero":false},"axis":{"title":null}},"x2":{"field":"n1"},
   "y":{"field":"lo","type":"quantitative","title":null,"scale":{"domain":[2921.97,2989.53],"nice":false,"zero":false},
     "axis":{"orient":"right","title":null,"grid":false,"values":[2960,2965,2970,2975,2980,2985],
     "labelExpr":"replace(format(datum.value, '.2f'), '.', ',')","domainColor":"#000000","domainWidth":1.5,"tickColor":"#000000","tickSize":5,"labelPadding":3,"labelFontSize":13,"labelColor":"#000000","labelFont":"Liberation Sans"}},
   "y2":{"field":"hi"}}},
{"data":{"name":"bands"},
 "mark":{"type":"area","color":"#4169E1","opacity":0.6,"clip":true},
 "encoding":{"x":{"field":"n","type":"quantitative","title":null,"scale":{"domain":[-1.95,205.13],"nice":false,"zero":false},"axis":{"title":null}},
   "y":{"field":"u1","type":"quantitative","title":null,"scale":{"domain":[2921.97,2989.53],"nice":false,"zero":false},"axis":{"title":null,"orient":"right"}},"y2":{"field":"l1"},"detail":{"field":"s"}}},
{"data":{"name":"bands"},
 "mark":{"type":"area","color":"#000080","opacity":0.61,"clip":true},
 "encoding":{"x":{"field":"n","type":"quantitative","title":null,"scale":{"domain":[-1.95,205.13],"nice":false,"zero":false},"axis":{"title":null}},
   "y":{"field":"u3","type":"quantitative","title":null,"scale":{"domain":[2921.97,2989.53],"nice":false,"zero":false},"axis":{"title":null,"orient":"right"}},"y2":{"field":"u2"},"detail":{"field":"s"}}},
{"data":{"name":"bands"},
 "mark":{"type":"area","color":"#000080","opacity":0.61,"clip":true},
 "encoding":{"x":{"field":"n","type":"quantitative","title":null,"scale":{"domain":[-1.95,205.13],"nice":false,"zero":false},"axis":{"title":null}},
   "y":{"field":"l2","type":"quantitative","title":null,"scale":{"domain":[2921.97,2989.53],"nice":false,"zero":false},"axis":{"title":null,"orient":"right"}},"y2":{"field":"l3"},"detail":{"field":"s"}}},
{"data":{"name":"bands"},
 "transform":[{"fold":["u3","u2","u1","l1","l2","l3"],"as":["key","val"]}],
 "mark":{"type":"line","color":"#14147A","strokeWidth":1.3,"opacity":0.85,"clip":true},
 "encoding":{"x":{"field":"n","type":"quantitative","title":null,"scale":{"domain":[-1.95,205.13],"nice":false,"zero":false},"axis":{"title":null}},
   "y":{"field":"val","type":"quantitative","title":null,"scale":{"domain":[2921.97,2989.53],"nice":false,"zero":false},"axis":{"title":null,"orient":"right"}},"detail":[{"field":"s"},{"field":"key"}]}},
{"data":{"name":"bands"},
 "transform":[{"fold":["u25","u15","u05","l05","l15","l25"],"as":["key","val"]}],
 "mark":{"type":"line","color":"#1C1C88","strokeWidth":1.2,"opacity":0.6,"strokeDash":[1,1.5],"clip":true},
 "encoding":{"x":{"field":"n","type":"quantitative","title":null,"scale":{"domain":[-1.95,205.13],"nice":false,"zero":false},"axis":{"title":null}},
   "y":{"field":"val","type":"quantitative","title":null,"scale":{"domain":[2921.97,2989.53],"nice":false,"zero":false},"axis":{"title":null,"orient":"right"}},"detail":[{"field":"s"},{"field":"key"}]}},
{"data":{"name":"levels"},
 "mark":{"type":"rule","strokeWidth":2},
 "encoding":{"x":{"field":"n0","type":"quantitative","title":null,"scale":{"domain":[-1.95,205.13],"nice":false,"zero":false},"axis":{"title":null}},"x2":{"field":"n1"},
   "y":{"field":"p","type":"quantitative","title":null,"scale":{"domain":[2921.97,2989.53],"nice":false,"zero":false},"axis":{"title":null,"orient":"right"}},
   "color":{"field":"t","type":"nominal","scale":{"domain":["sd","vw","v2","v3"],"range":["#2F4F4F","#2F4F4F","#800080","#4B0082"]},"legend":null},
   "strokeDash":{"field":"t","type":"nominal","scale":{"domain":["sd","vw","v2","v3"],"range":[[2,3],[7,4],[7,4],[7,4]]},"legend":null}}},
{"data":{"name":"vwap"},
 "mark":{"type":"line","strokeWidth":3.5,"strokeDash":[10,4,3,4],"clip":true},
 "encoding":{"x":{"field":"n","type":"quantitative","title":null,"scale":{"domain":[-1.95,205.13],"nice":false,"zero":false},"axis":{"title":null}},
   "y":{"field":"v","type":"quantitative","title":null,"scale":{"domain":[2921.97,2989.53],"nice":false,"zero":false},"axis":{"title":null,"orient":"right"}},
   "detail":{"field":"g"},
   "color":{"field":"d","type":"nominal","scale":{"domain":["up","dn"],"range":["#0000FF","#FF0000"]},"legend":null}}},
{"data":{"name":"candles"},
 "mark":{"type":"rule","color":"#000000","strokeWidth":1.3},
 "encoding":{"x":{"field":"n","type":"quantitative","title":null,"scale":{"domain":[-1.95,205.13],"nice":false,"zero":false},"axis":{"title":null}},
   "y":{"field":"l","type":"quantitative","title":null,"scale":{"domain":[2921.97,2989.53],"nice":false,"zero":false},"axis":{"title":null,"orient":"right"}},"y2":{"field":"h"}}},
{"data":{"name":"candles"},
 "mark":{"type":"bar","width":6,"stroke":"#000000","strokeWidth":1.2},
 "encoding":{"x":{"field":"n","type":"quantitative","title":null,"scale":{"domain":[-1.95,205.13],"nice":false,"zero":false},"axis":{"title":null}},
   "y":{"field":"o","type":"quantitative","title":null,"scale":{"domain":[2921.97,2989.53],"nice":false,"zero":false},"axis":{"title":null,"orient":"right"}},"y2":{"field":"c"},
   "color":{"condition":{"test":"datum.c > datum.o","value":"#32CD32"},"value":"#FF0000"}}},
{"data":{"name":"levels"},
 "transform":[{"filter":"datum.s == 'R'"}],
 "mark":{"type":"text","align":"left","baseline":"middle","fontSize":14,"font":"Liberation Sans"},
 "encoding":{"x":{"datum":184.7,"type":"quantitative","scale":{"domain":[-1.95,205.13],"nice":false,"zero":false},"axis":{"title":null}},
   "y":{"field":"p","type":"quantitative","title":null,"scale":{"domain":[2921.97,2989.53],"nice":false,"zero":false},"axis":{"title":null,"orient":"right"}},
   "text":{"field":"name"},
   "color":{"field":"t","type":"nominal","scale":{"domain":["sd","vw","v2","v3"],"range":["#2F4F4F","#2F4F4F","#800080","#4B0082"]},"legend":null}}},
{"data":{"name":"flags"},
 "transform":[{"filter":"datum.k == 'band'"}],
 "mark":{"type":"point","shape":"M-1,0L-0.8,-0.254L1,-0.254L1,0.254L-0.8,0.254Z","size":4489,"filled":true,"opacity":1,"stroke":"#000030","strokeWidth":0.8,"clip":false},
 "encoding":{"x":{"datum":208.4,"type":"quantitative","scale":{"domain":[-1.95,205.13],"nice":false,"zero":false},"axis":{"title":null}},
   "y":{"field":"p","type":"quantitative","title":null,"scale":{"domain":[2921.97,2989.53],"nice":false,"zero":false},"axis":{"title":null,"orient":"right"}},
   "color":{"value":"#000080"}}},
{"data":{"name":"flags"},
 "transform":[{"filter":"datum.k == 'band'"}],
 "mark":{"type":"text","align":"right","baseline":"middle","fontSize":13,"color":"#FFFFFF","clip":false},
 "encoding":{"x":{"datum":211.65,"type":"quantitative","scale":{"domain":[-1.95,205.13],"nice":false,"zero":false},"axis":{"title":null}},
   "y":{"field":"p","type":"quantitative","title":null,"scale":{"domain":[2921.97,2989.53],"nice":false,"zero":false},"axis":{"title":null,"orient":"right"}},
   "text":{"field":"lab"}}},
{"data":{"name":"flags"},
 "transform":[{"filter":"datum.k != 'band'"}],
 "mark":{"type":"point","shape":"M-1,0L-0.8,-0.254L1,-0.254L1,0.254L-0.8,0.254Z","size":4489,"filled":true,"opacity":1,"stroke":"#000000","strokeWidth":0.8,"clip":false},
 "encoding":{"x":{"datum":208.4,"type":"quantitative","scale":{"domain":[-1.95,205.13],"nice":false,"zero":false},"axis":{"title":null}},
   "y":{"field":"p","type":"quantitative","title":null,"scale":{"domain":[2921.97,2989.53],"nice":false,"zero":false},"axis":{"title":null,"orient":"right"}},
   "color":{"field":"k","type":"nominal","scale":{"domain":["y","v2","v3","vwap","close"],"range":["#2F4F4F","#800080","#4B0082","#FF0000","#000000"]},"legend":null}}},
{"data":{"name":"flags"},
 "transform":[{"filter":"datum.k != 'band'"}],
 "mark":{"type":"text","align":"right","baseline":"middle","fontSize":13,"color":"#FFFFFF","clip":false},
 "encoding":{"x":{"datum":211.65,"type":"quantitative","scale":{"domain":[-1.95,205.13],"nice":false,"zero":false},"axis":{"title":null}},
   "y":{"field":"p","type":"quantitative","title":null,"scale":{"domain":[2921.97,2989.53],"nice":false,"zero":false},"axis":{"title":null,"orient":"right"}},
   "text":{"field":"lab"}}},
{"data":{"values":[{"t":"LT_Current_Day_VWAP","p":2988.72},{"t":"27.06.2019 23:00:00 - 01.07.2019 23:00:00","p":2987.47},{"t":"© 2019 NinjaTrader, LLC","p":2922.91}]},
 "mark":{"type":"text","align":"left","baseline":"middle","fontSize":13.5,"color":"#000000"},
 "encoding":{"x":{"datum":-1.6,"type":"quantitative","scale":{"domain":[-1.95,205.13],"nice":false,"zero":false},"axis":{"title":null}},
   "y":{"field":"p","type":"quantitative","title":null,"scale":{"domain":[2921.97,2989.53],"nice":false,"zero":false},"axis":{"title":null,"orient":"right"}},
   "text":{"field":"t"}}},
{"data":{"values":[{"t":"ES 09-19"}]},
 "mark":{"type":"text","align":"left","baseline":"middle","fontSize":8,"color":"#000000","clip":false},
 "encoding":{"x":{"datum":-1.6,"type":"quantitative","scale":{"domain":[-1.95,205.13],"nice":false,"zero":false},"axis":{"title":null}},
   "y":{"datum":2919.42,"type":"quantitative","scale":{"domain":[2921.97,2989.53],"nice":false,"zero":false},"axis":{"title":null,"orient":"right"}},
   "text":{"field":"t"}}},
{"data":{"values":[{"t":"NINJA"}]},
 "mark":{"type":"text","align":"left","baseline":"middle","fontSize":14,"color":"#808080","clip":false},
 "encoding":{"x":{"datum":196.1,"type":"quantitative","scale":{"domain":[-1.95,205.13],"nice":false,"zero":false},"axis":{"title":null}},
   "y":{"datum":2919.42,"type":"quantitative","scale":{"domain":[2921.97,2989.53],"nice":false,"zero":false},"axis":{"title":null,"orient":"right"}},
   "text":{"field":"t"}}},
{"data":{"values":[{"t":"TRADER®"}]},
 "mark":{"type":"text","align":"left","baseline":"middle","fontSize":14,"color":"#B22222","clip":false},
 "encoding":{"x":{"datum":200.65,"type":"quantitative","scale":{"domain":[-1.95,205.13],"nice":false,"zero":false},"axis":{"title":null}},
   "y":{"datum":2919.42,"type":"quantitative","scale":{"domain":[2921.97,2989.53],"nice":false,"zero":false},"axis":{"title":null,"orient":"right"}},
   "text":{"field":"t"}}},
{"data":{"values":[{"t":"logo"}]},
 "mark":{"type":"point","shape":"circle","size":110,"filled":false,"stroke":"#B22222","strokeWidth":2,"clip":false},
 "encoding":{"x":{"datum":194.4,"type":"quantitative","scale":{"domain":[-1.95,205.13],"nice":false,"zero":false},"axis":{"title":null}},
   "y":{"datum":2919.42,"type":"quantitative","scale":{"domain":[2921.97,2989.53],"nice":false,"zero":false},"axis":{"title":null,"orient":"right"}}}}
]
}
